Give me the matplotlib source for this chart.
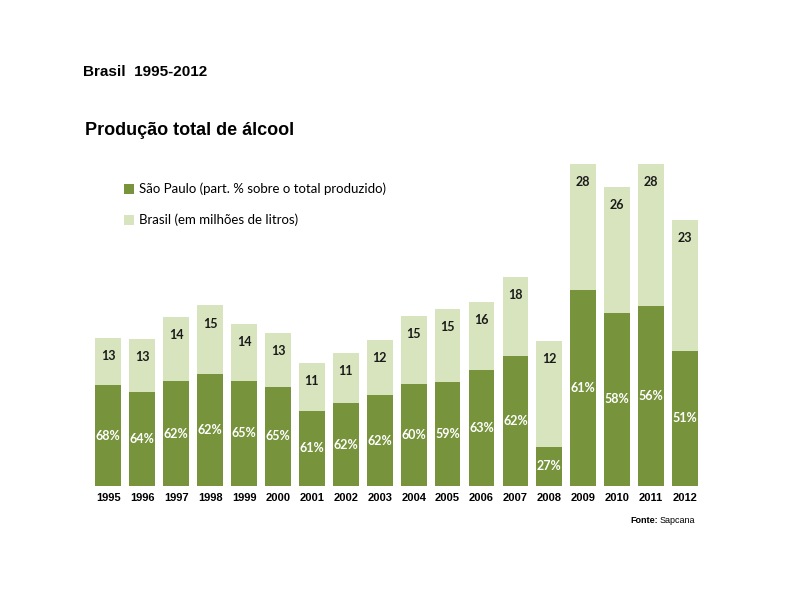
import numpy as np
import matplotlib
matplotlib.use('Agg')
import matplotlib.pyplot as plt

# dados
anos = ['1995', '1996', '1997', '1998', '1999', '2000', '2001', '2002', '2003',
        '2004', '2005', '2006', '2007', '2008', '2009', '2010', '2011', '2012']
brasil = [12.9, 12.8, 14.7, 15.7, 14.1, 13.3, 10.7, 11.6, 12.7,
          14.8, 15.4, 16.0, 18.2, 12.6, 28.0, 26.0, 28.0, 23.1]
brasil_rotulo = [13, 13, 14, 15, 14, 13, 11, 11, 12, 15, 15, 16, 18, 12, 28, 26, 28, 23]
sp_pct = [68, 64, 62, 62, 65, 65, 61, 62, 62, 60, 59, 63, 62, 27, 61, 58, 56, 51]

escuro = '#77933C'
claro = '#D7E4BD'

sp = np.array(brasil) * np.array(sp_pct) / 100
x = np.arange(len(anos))

fig = plt.figure(figsize=(8, 6), dpi=100)
ax = fig.add_axes([0.11, 0.19, 0.7675, 0.575])

ax.bar(x, brasil, width=0.76, color=claro, label='Brasil (em milhões de litros)', zorder=1)
ax.bar(x, sp, width=0.76, color=escuro, label='São Paulo (part. % sobre o total produzido)', zorder=2)

for i in range(len(anos)):
    ax.annotate(str(brasil_rotulo[i]), (x[i], brasil[i]), xytext=(0, -13), textcoords='offset points',
                ha='center', va='center', fontsize=9, fontweight='bold', family='Lato', color='#1a1a1a')
    ax.text(x[i], sp[i] / 2, '%d%%' % sp_pct[i], ha='center', va='center',
            fontsize=9, fontweight='bold', family='Lato', color='white', zorder=3)

ax.set_xlim(-0.6, 17.5)
ax.set_ylim(0, 30)
ax.set_xticks(x)
ax.set_xticklabels(anos, fontsize=8, fontweight='bold', family='Liberation Sans')
ax.tick_params(axis='x', length=0, pad=5)
ax.set_yticks([])
for s in ax.spines.values():
    s.set_visible(False)

h, l = ax.get_legend_handles_labels()
leg = fig.legend(h[::-1], l[::-1], loc='upper left', bbox_to_anchor=(0.140, 0.715),
                 frameon=False, handlelength=0.75, handleheight=0.75, handletextpad=0.4,
                 labelspacing=1.4, prop={'family': 'Lato', 'size': 9.5})

fig.text(0.104, 0.88, 'Brasil  1995-2012', fontsize=11, fontweight='bold',
         family='Liberation Sans', va='center')
fig.text(0.106, 0.783, 'Produção total de álcool', fontsize=13, fontweight='bold',
         family='Liberation Sans', va='center')
fig.text(0.822, 0.132, 'Fonte:', fontsize=6.5, fontweight='bold', family='Liberation Sans',
         ha='right', va='center')
fig.text(0.825, 0.132, 'Sapcana', fontsize=6.5, family='Liberation Sans', ha='left', va='center')

fig.savefig('out.png', dpi=100)
